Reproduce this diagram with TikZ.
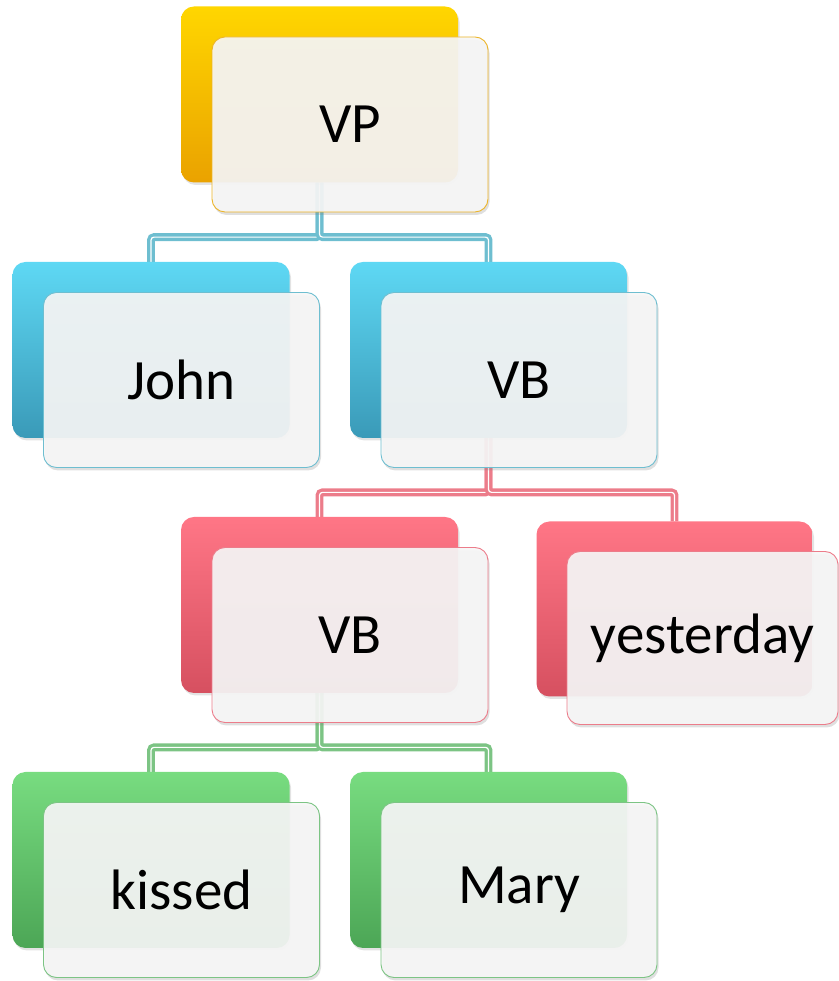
\documentclass[tikz,border=0pt]{standalone}
\usepackage{fontspec}
\setmainfont{Carlito}
\usepackage{tikz}
\usetikzlibrary{positioning, calc, backgrounds, shadows}
\definecolor{TreeGoldTop}{RGB}{255, 214, 0}
\definecolor{TreeGoldBot}{RGB}{234, 162, 0}
\definecolor{TreeGoldLine}{RGB}{236, 180, 40}
\definecolor{TreeBlueTop}{RGB}{94, 216, 244}
\definecolor{TreeBlueBot}{RGB}{58, 154, 184}
\definecolor{TreeBlueLine}{RGB}{110, 190, 208}
\definecolor{TreeRedTop}{RGB}{255, 118, 134}
\definecolor{TreeRedBot}{RGB}{214, 80, 96}
\definecolor{TreeRedLine}{RGB}{236, 124, 138}
\definecolor{TreeGreenTop}{RGB}{120, 220, 128}
\definecolor{TreeGreenBot}{RGB}{76, 166, 86}
\definecolor{TreeGreenLine}{RGB}{124, 196, 132}
\definecolor{TreeCard}{RGB}{246, 246, 246}

\tikzset{
  backbox/.style={rounded corners=13pt, minimum width=277pt, minimum height=176pt,
    inner sep=0pt, drop shadow={opacity=0.22, shadow xshift=1.5pt, shadow yshift=-2.5pt}},
  goldback/.style={backbox, top color=TreeGoldTop, bottom color=TreeGoldBot},
  blueback/.style={backbox, top color=TreeBlueTop, bottom color=TreeBlueBot},
  redback/.style={backbox, top color=TreeRedTop, bottom color=TreeRedBot},
  greenback/.style={backbox, top color=TreeGreenTop, bottom color=TreeGreenBot},
  frontbox/.style={rounded corners=13pt, minimum width=276pt, minimum height=175pt,
    inner sep=0pt, fill=TreeCard, fill opacity=0.92, text opacity=1, line width=0.9pt,
    font=\fontsize{57}{60}\selectfont,
    drop shadow={opacity=0.25, shadow xshift=1.5pt, shadow yshift=-3pt}},
  goldfront/.style={frontbox, draw=TreeGoldLine},
  bluefront/.style={frontbox, draw=TreeBlueLine},
  redfront/.style={frontbox, draw=TreeRedLine},
  greenfront/.style={frontbox, draw=TreeGreenLine},
  link/.style={line width=3.3pt, double=white, double distance=1.2pt, rounded corners=3pt},
}

\begin{document}
\begin{tikzpicture}[x=1pt,y=1pt]
  \path[use as bounding box] (0,0) rectangle (838,981);

  % top level
  \node[goldback] (vpB) at (319.5,886.5) {};
  \node[goldfront] (vpF) at ([shift={(30.5,-30)}]vpB.center) {VP};

  % second level
  \node[blueback] (johnB) at (151,631) {};
  \node[bluefront] (johnF) at ([shift={(30.5,-30)}]johnB.center) {John};
  \node[blueback] (vbB) at (488.5,631) {};
  \node[bluefront] (vbF) at ([shift={(30.5,-30)}]vbB.center) {VB};

  % third level
  \node[redback] (vbiB) at (319.5,376) {};
  \node[redfront] (vbiF) at ([shift={(30.5,-30)}]vbiB.center) {VB};
  \node[redback, minimum width=276pt, minimum height=175pt] (yestB) at (674.5,372) {};
  \node[redfront, minimum width=271pt, minimum height=173pt] (yestF) at ([shift={(28,-29)}]yestB.center) {yesterday};

  % leaves
  \node[greenback] (kissB) at (151,121) {};
  \node[greenfront] (kissF) at ([shift={(30.5,-30)}]kissB.center) {kissed};
  \node[greenback] (maryB) at (488.5,121) {};
  \node[greenfront] (maryF) at ([shift={(30.5,-30)}]maryB.center) {Mary};

  % elbow connectors, kept behind the boxes
  \begin{scope}[on background layer]
    \coordinate (vpBus) at ($(vpF.south)!0.5!(johnB.north)$);
    \coordinate (vbBus) at ($(vbF.south)!0.5!(vbiB.north)$);
    \coordinate (vbiBus) at ($(vbiF.south)!0.5!(kissB.north)$);

    \draw[link, TreeBlueLine] (vpB.south) -- (vpB.south |- vpBus) -| (johnB.north);
    \draw[link, TreeBlueLine] (vpB.south) -- (vpB.south |- vpBus) -| (vbB.north);

    \draw[link, TreeRedLine] (vbB.south) -- (vbB.south |- vbBus) -| (vbiB.north);
    \draw[link, TreeRedLine] (vbB.south) -- (vbB.south |- vbBus) -| (yestB.north);

    \draw[link, TreeGreenLine] (vbiB.south) -- (vbiB.south |- vbiBus) -| (kissB.north);
    \draw[link, TreeGreenLine] (vbiB.south) -- (vbiB.south |- vbiBus) -| (maryB.north);
  \end{scope}
\end{tikzpicture}
\end{document}
